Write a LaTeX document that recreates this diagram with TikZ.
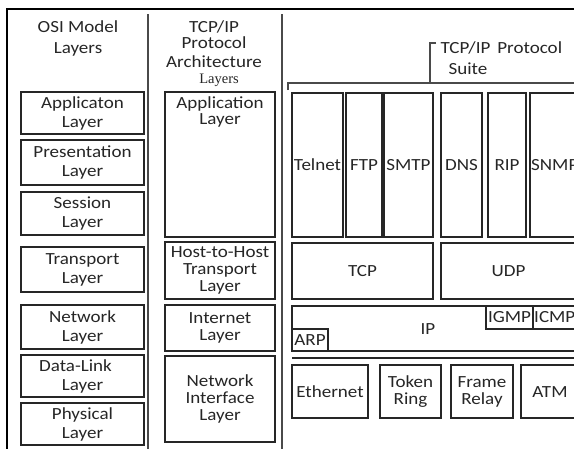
\documentclass[tikz,border=0pt]{standalone}
\usepackage{fontspec}
\setmainfont{Carlito}[FakeStretch=1.12]
\newfontfamily\layerserif{Liberation Serif}
\definecolor{ink}{HTML}{262626}
\definecolor{rulegray}{HTML}{4A4A4A}
\definecolor{txt}{HTML}{262626}

% box from (x1,y1) to (x2,y2): name, x1, y1, x2, y2, text
\newcommand\protobox[6]{%
  \node[lbox, minimum width={#4-#2}, minimum height={#5-#3}]
    (#1) at ({(#2+#4)/2},{(#3+#5)/2}) {#6};}

\begin{document}
\begin{tikzpicture}[x=1pt,y=-1pt,
  every node/.style={font=\fontsize{17}{17}\selectfont, text=txt},
  lbox/.style={draw=ink, line width=1.9pt, inner sep=0pt, align=center},
  osi/.style={font=\fontsize{17}{19}\selectfont},
  frameline/.style={draw=black, line width=1.5pt},
  divider/.style={draw=rulegray, line width=2pt},
  bracket/.style={draw=rulegray, line width=1.3pt},
]
\useasboundingbox (0,0) rectangle (574,448);
\clip (0,0) rectangle (574,448);
\fill[white] (0,0) rectangle (574,448);

% outer frame and column dividers
\draw[frameline] (580,9) -- (7,9) -- (7,452);
\draw[divider] (148,14) -- (148,452);
\draw[divider] (282,14) -- (282,452);

% column headings
\node[anchor=base] (osih1) at (78,32) {OSI Model};
\node[anchor=base] (osih2) at (78,53) {Layers};
\node[anchor=base] (arch1) at (214,32) {TCP/IP};
\node[anchor=base] (arch2) at (214,48) {Protocol};
\node[anchor=base] (arch3) at (214,67) {Architecture};
\node[anchor=base, font=\layerserif\fontsize{14.5}{14.5}\selectfont] (arch4) at (219,83) {Layers};
\node[anchor=base west] (suite1) at (437,53) {TCP/IP\hspace{7pt}Protocol};
\node[anchor=base west] (suite2) at (445,74) {Suite};

% suite bracket
\coordinate (brtop) at (430,43);
\coordinate (brtick) at (436,43);
\coordinate (brjoin) at (430,83);
\coordinate (brleft) at (288,83);
\coordinate (brleftend) at (288,90);
\coordinate (brright) at (580,83);
\draw[bracket] (brtick) -- (brtop) -- (brjoin);
\draw[bracket] (brleftend) -- (brleft) -- (brright);

% OSI model layers
\begin{scope}[every node/.append style={osi}]
\protobox{app}{21}{92}{144}{134}{Applicaton\\Layer}
\protobox{pres}{21}{140}{144}{185}{Presentation\\Layer}
\protobox{sess}{21}{192}{144}{235}{Session\\Layer}
\protobox{trans}{21}{247}{144}{292}{Transport\\Layer}
\protobox{net}{21}{305}{144}{349}{Network\\Layer}
\protobox{dlink}{21}{355}{144}{397}{Data-Link\kern14pt\\Layer}
\protobox{phys}{21}{403}{144}{445}{Physical\\Layer}
\end{scope}

% TCP/IP architecture layers
\protobox{tapp}{165}{92}{275}{237}{}
\node[anchor=base, align=center, font=\fontsize{17}{16}\selectfont] (tapptext) at (220,124) {Application\\Layer};
\protobox{host}{165}{242}{275}{299}{Host-to-Host\\Transport\\Layer}
\protobox{inet}{165}{305}{275}{351}{Internet\\Layer}
\protobox{nif}{165}{356}{275}{442}{Network\\Interface\\Layer}

% application protocols
\protobox{telnet}{292}{93}{343}{237}{Telnet}
\protobox{ftp}{346}{93}{382}{237}{FTP}
\protobox{smtp}{384}{93}{433}{237}{SMTP}
\protobox{dns}{441}{93}{482}{237}{DNS}
\protobox{rip}{488}{93}{526}{237}{RIP}
\protobox{snmp}{530}{93}{620}{237}{}
\node[anchor=west, inner sep=0pt] (snmptext) at (531,165) {SNMP};

% transport protocols
\protobox{tcp}{292}{243}{433}{299}{TCP}
\protobox{udp}{441}{243}{576}{299}{UDP}

% internet protocols
\protobox{ip}{292}{306}{620}{351}{}
\node (iptext) at (428,329) {IP};
\protobox{igmp}{486}{306}{533}{329}{IGMP}
\protobox{icmp}{533}{306}{620}{329}{}
\node[anchor=west, inner sep=0pt] (icmptext) at (534,317.5) {ICMP};
\protobox{arp}{292}{329}{328}{351}{ARP}

% link separator
\coordinate (sepl) at (292,358);
\coordinate (sepr) at (580,358);
\draw[draw=ink, line width=1.9pt] (sepl) -- (sepr);

% network access technologies
\protobox{eth}{292}{365}{368}{418}{Ethernet}
\protobox{token}{380}{365}{441}{418}{Token\\Ring}
\protobox{frame}{451}{365}{513}{418}{Frame\\Relay}
\protobox{atm}{521}{365}{620}{418}{}
\node (atmtext) at (550,392) {ATM};
\end{tikzpicture}
\end{document}
